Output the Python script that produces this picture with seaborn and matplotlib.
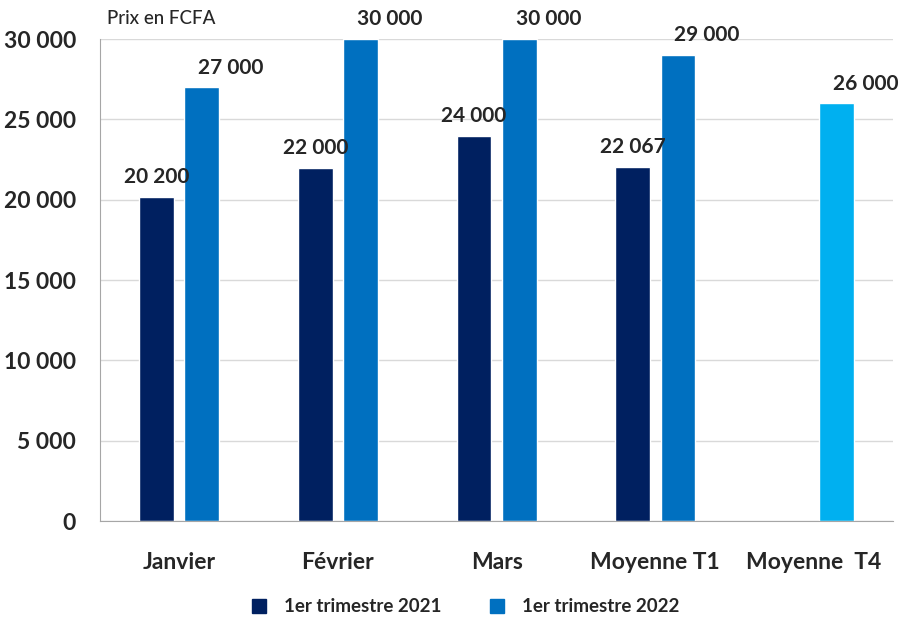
import numpy as np
import pandas as pd
import matplotlib.pyplot as plt
import seaborn as sns
from matplotlib.lines import Line2D
from matplotlib.ticker import FuncFormatter, MultipleLocator

mois = ["Janvier", "Février", "Mars", "Moyenne T1", "Moyenne  T4"]
prix_2021 = [20200, 22000, 24000, 22067, np.nan]
prix_2022 = [27000, 30000, 30000, 29000, 26000]
series = ["1er trimestre 2021", "1er trimestre 2022"]

df = pd.DataFrame({
    "mois": mois * 2,
    "serie": [series[0]] * 5 + [series[1]] * 5,
    "prix": prix_2021 + prix_2022,
}).dropna()

navy = "#002060"
blue = "#0070C0"
light = "#00B0F0"

sns.set_style("white")
plt.rcParams["font.family"] = ["Lato", "DejaVu Sans"]
plt.rcParams["font.weight"] = "bold"

fig = plt.figure(figsize=(9.07, 6.21), dpi=100)
ax = fig.add_axes([0.110, 0.161, 0.875, 0.776])

sns.barplot(data=df, x="mois", y="prix", hue="serie", order=mois, hue_order=series,
            palette=[navy, blue], width=0.57, gap=0.23, saturation=1, ax=ax, legend=False)

# T4 bar is a different blue
for bar in ax.containers[1]:
    if bar.get_x() > 3.5:
        bar.set_facecolor(light)

def fmt(v):
    return f"{v:,.0f}".replace(",", " ")

for i, cont in enumerate(ax.containers):
    dx = 0 if i == 0 else 21
    for bar in cont:
        h = bar.get_height()
        if np.isnan(h):
            continue
        ax.annotate(fmt(h), (bar.get_x() + bar.get_width() / 2, h), xytext=(dx, 7),
                    textcoords="offset points", ha="center", va="bottom",
                    fontsize=15, fontweight="bold", annotation_clip=False)

ax.set_ylim(0, 30000)
ax.set_xlim(-0.5, 4.5)
ax.yaxis.set_major_locator(MultipleLocator(5000))
ax.yaxis.set_major_formatter(FuncFormatter(lambda v, p: fmt(v)))
ax.grid(axis="y", color="#D9D9D9", linewidth=1)
ax.set_axisbelow(True)
for s in ["top", "right"]:
    ax.spines[s].set_visible(False)
for s in ["left", "bottom"]:
    ax.spines[s].set_color("#A6A6A6")
ax.tick_params(axis="y", length=0, pad=17, labelsize=16.5)
ax.tick_params(axis="x", length=0, pad=22, labelsize=16.5)
ax.set_xlabel("")
ax.set_ylabel("")

ax.text(0.009, 1.025, "Prix en FCFA", transform=ax.transAxes, fontsize=13.5,
        fontweight="medium", ha="left", va="bottom")

handles = [Line2D([], [], marker="s", linestyle="", color=c, markersize=10) for c in [navy, blue]]
fig.legend(handles, series, loc="lower center", bbox_to_anchor=(0.507, -0.018), ncol=2,
           frameon=False, handletextpad=0.3, columnspacing=2.0,
           prop={"weight": "bold", "size": 13.5})

fig.savefig("out.png", dpi=100)
